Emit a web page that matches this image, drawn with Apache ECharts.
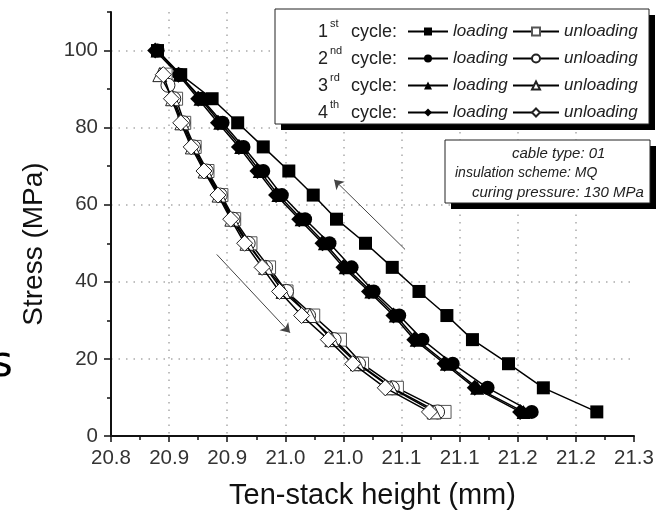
<!DOCTYPE html>
<html><head><meta charset="utf-8">
<script src="https://cdn.jsdelivr.net/npm/echarts@6/dist/echarts.min.js"></script>
<style>html,body{margin:0;padding:0;background:#fff}#c{width:664px;height:512px}</style>
</head><body><div id="c"></div>
<script>
// ---- data ----
const xTickLabels = ['20.8','20.9','20.9','21.0','21.0','21.1','21.1','21.2','21.2','21.3'];
const loadStress = [100,93.75,87.5,81.25,75,68.75,62.5,56.25,50,43.75,37.5,31.25,25,18.75,12.5,6.25];
const load1 = [20.840,20.860,20.887,20.909,20.931,20.953,20.974,20.994,21.019,21.042,21.065,21.089,21.111,21.142,21.172,21.218];
const load2 = [20.840,20.859,20.878,20.896,20.914,20.931,20.947,20.967,20.988,21.007,21.026,21.048,21.068,21.094,21.124,21.162];
const load3 = [20.840,20.859,20.877,20.894,20.912,20.928,20.944,20.964,20.984,21.002,21.024,21.045,21.063,21.089,21.115,21.155];
const load4 = [20.838,20.858,20.875,20.892,20.910,20.926,20.942,20.962,20.982,21.000,21.022,21.043,21.061,21.087,21.113,21.152];
const unloadStress = [93.75,87.5,81.25,75,68.75,62.5,56.25,50,43.75,37.5,31.25,25,18.75,12.5,6.25];
const unloadStress2 = [91,87.5,81.25,75,68.75,62.5,56.25,50,43.75,37.5,31.25,25,18.75,12.5,6.25];
const unload1 = [20.847,20.856,20.863,20.872,20.883,20.895,20.906,20.920,20.936,20.951,20.974,20.997,21.016,21.046,21.087];
const unload2 = [20.849,20.854,20.862,20.871,20.882,20.894,20.905,20.918,20.933,20.951,20.970,20.992,21.013,21.042,21.081];
const unload3 = [20.842,20.853,20.861,20.870,20.881,20.893,20.904,20.917,20.933,20.948,20.971,20.990,21.012,21.041,21.078];
const unload4 = [20.845,20.852,20.860,20.869,20.880,20.892,20.903,20.915,20.930,20.945,20.964,20.987,21.008,21.036,21.074];
const arrowUp = [[21.053,48.4],[20.992,66.5]];
const arrowDown = [[20.891,47.1],[20.954,26.8]];
const cycleNums = ['1','2','3','4'];
const cycleSups = ['st','nd','rd','th'];
const infoLines = ['cable type: 01','insulation scheme: MQ','curing pressure: 130 MPa'];

// ---- chart ----
const FONT = "'Liberation Sans', Arial, sans-serif";
const pair = (xs, ys) => xs.map((x, i) => [x, ys[i]]);
const loadNames = cycleNums.map((n, i) => n + cycleSups[i] + ' loading');
const unloadNames = cycleNums.map((n, i) => n + cycleSups[i] + ' unloading');
const loadSets = [load1, load2, load3, load4];
const unloadSets = [unload1, unload2, unload3, unload4];
const unloadY = [unloadStress, unloadStress2, unloadStress, unloadStress];
const syms = ['rect', 'circle', 'triangle', 'diamond'];
const symSize = [13, 14, 14, 16];

const series = [];
loadSets.forEach((xs, i) => {
  series.push({
    name: loadNames[i], type: 'line', data: pair(xs, loadStress),
    symbol: syms[i], symbolSize: symSize[i], showAllSymbol: true,
    itemStyle: {color: '#000', borderColor: '#000', borderWidth: 0},
    lineStyle: {color: '#000', width: 1.5},
    z: 2 + i
  });
});
unloadSets.forEach((xs, i) => {
  series.push({
    name: unloadNames[i], type: 'line', data: pair(xs, unloadY[i]),
    symbol: syms[i], symbolSize: symSize[i], showAllSymbol: true,
    itemStyle: {color: '#fff', borderColor: i === 0 ? '#555' : '#222', borderWidth: 1},
    lineStyle: {color: '#000', width: 1.5},
    z: 6 + i
  });
});
series[0].markLine = {
  silent: true, symbol: ['none', 'arrow'], symbolSize: 9, animation: false,
  label: {show: false},
  lineStyle: {color: '#444', width: 1, type: 'solid'},
  data: [
    [{coord: arrowUp[0]}, {coord: arrowUp[1]}],
    [{coord: arrowDown[0]}, {coord: arrowDown[1]}]
  ]
};

const rowsY = [32, 59, 86, 113];
const graphics = [
  {type: 'rect', shape: {x: 281, y: 15, width: 374, height: 115}, style: {fill: '#000'}, z: 10},
  {type: 'rect', shape: {x: 275, y: 9, width: 374, height: 115}, style: {fill: '#fff', stroke: '#222', lineWidth: 1}, z: 11},
  {type: 'rect', shape: {x: 451, y: 146, width: 205, height: 63}, style: {fill: '#000'}, z: 10},
  {type: 'rect', shape: {x: 445, y: 140, width: 205, height: 63}, style: {fill: '#fff', stroke: '#222', lineWidth: 1}, z: 11},
  {type: 'text', left: -9, top: 344, style: {text: 's', font: "42px 'DejaVu Sans', sans-serif", fill: '#000'}, z: 12}
];
cycleNums.forEach((n, i) => {
  graphics.push({type: 'text', z: 12, style: {x: 328, y: rowsY[i], text: n, font: '18px ' + FONT, fill: '#222', align: 'right', verticalAlign: 'middle'}});
  graphics.push({type: 'text', z: 12, style: {x: 330, y: rowsY[i] - 8, text: cycleSups[i], font: '11px ' + FONT, fill: '#222', align: 'left', verticalAlign: 'middle'}});
  graphics.push({type: 'text', z: 12, style: {x: 351, y: rowsY[i], text: 'cycle:', font: '18px ' + FONT, fill: '#222', align: 'left', verticalAlign: 'middle'}});
});
const infoX = [512, 455, 472], infoY = [154, 173, 193], infoSize = [15, 14, 15];
infoLines.forEach((t, i) => {
  graphics.push({type: 'text', z: 12, style: {x: infoX[i], y: infoY[i], text: t, font: 'italic ' + infoSize[i] + 'px ' + FONT, fill: '#222', align: 'left', verticalAlign: 'middle'}});
});

const legendBase = {
  orient: 'vertical', top: 23, itemHeight: 10, itemGap: 10, selectedMode: false, z: 20,
  textStyle: {fontFamily: FONT, fontSize: 17, fontStyle: 'italic', color: '#222'}, padding: 0
};

const option = {
  animation: false,
  backgroundColor: '#fff',
  grid: {left: 111, right: 30, top: 12, bottom: 76, containLabel: false, outerBoundsMode: 'none'},
  legend: [
    Object.assign({}, legendBase, {left: 407, itemWidth: 40, data: loadNames, formatter: () => 'loading'}),
    Object.assign({}, legendBase, {left: 512, itemWidth: 46, data: unloadNames, formatter: () => 'unloading'})
  ],
  xAxis: {
    type: 'value', min: 20.80, max: 21.25, interval: 0.05,
    name: 'Ten-stack height (mm)', nameLocation: 'middle', nameGap: 45,
    nameTextStyle: {fontFamily: FONT, fontSize: 29, color: '#111'},
    axisLine: {show: true, onZero: false, lineStyle: {color: '#111', width: 2}},
    axisTick: {show: true, length: 6, lineStyle: {color: '#111', width: 1.5}},
    minorTick: {show: true, splitNumber: 2, length: 4, lineStyle: {color: '#111', width: 1.5}},
    axisLabel: {margin: 12, fontFamily: FONT, fontSize: 20.5, color: '#333',
      formatter: (v, i) => xTickLabels[i] !== undefined ? xTickLabels[i] : ''},
    splitLine: {show: true, showMinLine: false, showMaxLine: false, lineStyle: {color: '#aaa', width: 1.5, type: [1.5, 6]}}
  },
  yAxis: [{
    type: 'value', min: 0, max: 110, interval: 20,
    name: 'Stress (MPa)', nameLocation: 'middle', nameGap: 63,
    nameTextStyle: {fontFamily: FONT, fontSize: 28, color: '#111', padding: [0, 40, 0, 0]},
    axisLine: {show: true, onZero: false, lineStyle: {color: '#111', width: 2}},
    axisTick: {show: true, length: 7, lineStyle: {color: '#111', width: 1.5}},
    axisLabel: {margin: 13, fontFamily: FONT, fontSize: 20.5, color: '#333', showMaxLabel: false},
    splitLine: {show: true, showMinLine: false, showMaxLine: false, lineStyle: {color: '#aaa', width: 1.5, type: [1.5, 6]}}
  }, {
    type: 'value', min: 0, max: 110, interval: 10, position: 'left',
    axisLine: {show: false}, axisLabel: {show: false}, splitLine: {show: false},
    axisTick: {show: true, length: 4, lineStyle: {color: '#111', width: 1.5}}
  }],
  graphic: graphics,
  series: series
};
const chart = echarts.init(document.getElementById('c'), null, {renderer: 'canvas'});
chart.setOption(option);
</script>
</body></html>
